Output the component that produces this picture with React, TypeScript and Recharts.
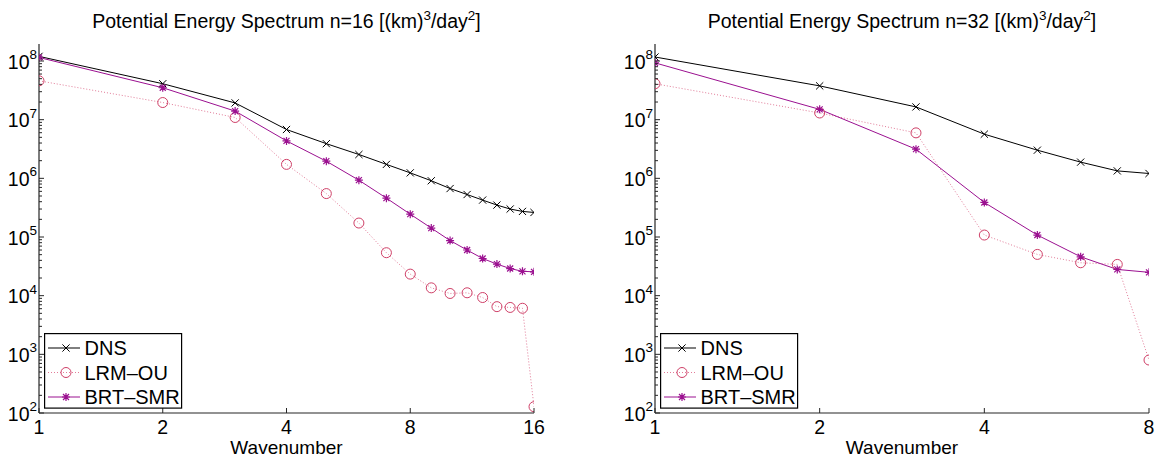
import React from "react";
import { LineChart, Line, XAxis, YAxis } from "recharts";

// wavenumbers and spectra, n = 16
const WAVENUMBER_16 = [1, 2, 3, 4, 5, 6, 7, 8, 9, 10, 11, 12, 13, 14, 15, 16];
const DNS_16 = [1.2e8, 4.1e7, 1.93e7, 6.8e6, 3.9e6, 2.55e6, 1.73e6, 1.24e6, 9.1e5, 6.7e5, 5.3e5, 4.26e5, 3.5e5, 3.0e5, 2.73e5, 2.62e5];
const LRM_16 = [4.6e7, 1.96e7, 1.09e7, 1.73e6, 5.5e5, 1.73e5, 5.4e4, 2.33e4, 1.36e4, 1.09e4, 1.12e4, 9.3e3, 6.5e3, 6.3e3, 6.1e3, 128];
const BRT_16 = [1.15e8, 3.5e7, 1.4e7, 4.35e6, 1.96e6, 9.3e5, 4.6e5, 2.45e5, 1.42e5, 8.7e4, 6.0e4, 4.3e4, 3.45e4, 2.9e4, 2.6e4, 2.55e4];

// wavenumbers and spectra, n = 32
const WAVENUMBER_32 = [1, 2, 3, 4, 5, 6, 7, 8];
const DNS_32 = [1.17e8, 3.77e7, 1.65e7, 5.66e6, 3.02e6, 1.89e6, 1.34e6, 1.21e6];
const LRM_32 = [4.1e7, 1.3e7, 5.96e6, 1.08e5, 5.05e4, 3.64e4, 3.41e4, 800];
const BRT_32 = [9.3e7, 1.5e7, 3.14e6, 3.88e5, 1.08e5, 4.6e4, 2.8e4, 2.5e4];

const X_TICKS_16 = [1, 2, 4, 8, 16];
const X_TICKS_32 = [1, 2, 4, 8];
const Y_MIN = 1e2;
const Y_MAX = 1.95e8;

const FONT = '"Liberation Sans", Arial, Helvetica, sans-serif';
const AXIS = "#262626";
const C_DNS = "#000000";
const C_LRM = "#cf3f67";
const C_LRM_LINE = "#e27b98";
const C_BRT = "#9b1090";

// log ticks: decades get a label, 2..9 get minor marks
const Y_TICKS: number[] = [];
for (let d = 2; d <= 8; d++) {
  for (let m = 1; m <= 9; m++) {
    const v = m * Math.pow(10, d);
    if (v <= Y_MAX) Y_TICKS.push(v);
  }
}

function buildRows(ks: number[], dns: number[], lrm: number[], brt: number[]) {
  return ks.map((k, i) => ({ k, dns: dns[i], lrm: lrm[i], brt: brt[i] }));
}

function CrossMark({ cx, cy, color }: any) {
  const s = 3.6;
  return (
    <path
      d={`M${cx - s},${cy - s}L${cx + s},${cy + s}M${cx - s},${cy + s}L${cx + s},${cy - s}`}
      stroke={color}
      strokeWidth={1}
      fill="none"
    />
  );
}

function StarMark({ cx, cy, color }: any) {
  const s = 4;
  const d = 3;
  return (
    <path
      d={`M${cx - s},${cy}L${cx + s},${cy}M${cx},${cy - s}L${cx},${cy + s}M${cx - d},${cy - d}L${cx + d},${cy + d}M${cx - d},${cy + d}L${cx + d},${cy - d}`}
      stroke={color}
      strokeWidth={1.2}
      fill="none"
    />
  );
}

function CircleMark({ cx, cy, color }: any) {
  return <circle cx={cx} cy={cy} r={5} stroke={color} strokeWidth={1} fill="none" />;
}

function YTick({ x, y, payload }: any) {
  const lg = Math.log10(payload.value);
  const e = Math.round(lg);
  if (Math.abs(lg - e) > 1e-6) {
    return <line x1={x} x2={x + 3} y1={y} y2={y} stroke={AXIS} />;
  }
  return (
    <g>
      <line x1={x} x2={x + 5} y1={y} y2={y} stroke={AXIS} />
      <text x={x - 2} y={y + 7.5} textAnchor="end" fontSize={19.5} fontFamily={FONT} fill="#000">
        10
        <tspan dy={-9.5} fontSize={13.5}>
          {e}
        </tspan>
      </text>
    </g>
  );
}

function XTick({ x, y, payload }: any) {
  return (
    <g>
      <line x1={x} x2={x} y1={y} y2={y - 5} stroke={AXIS} />
      <text x={x} y={y + 20.5} textAnchor="middle" fontSize={19.5} fontFamily={FONT} fill="#000">
        {payload.value}
      </text>
    </g>
  );
}

function LegendBox({ left, top }: { left: number; top: number }) {
  const rows = [
    { name: "DNS", color: C_DNS, line: C_DNS, dash: undefined, Mark: CrossMark },
    { name: "LRM\u2013OU", color: C_LRM, line: C_LRM_LINE, dash: "1 2", Mark: CircleMark },
    { name: "BRT\u2013SMR", color: C_BRT, line: C_BRT, dash: undefined, Mark: StarMark },
  ];
  return (
    <svg style={{ position: "absolute", left, top }} width={139} height={77}>
      <rect x={0.6} y={0.6} width={137} height={74.5} fill="#fff" stroke="#000" strokeWidth={1.2} />
      {rows.map((r, i) => {
        const cy = 15 + i * 24.5;
        return (
          <g key={r.name}>
            <line x1={4} x2={36} y1={cy} y2={cy} stroke={r.line} strokeDasharray={r.dash} />
            <r.Mark cx={22} cy={cy} color={r.color} />
            <text x={40.5} y={cy + 7} fontSize={20} fontFamily={FONT} fill="#000">
              {r.name}
            </text>
          </g>
        );
      })}
    </svg>
  );
}

function SpectrumPanel({ n, rows, xTicks, left, yAxisWidth, rightMargin }: any) {
  const W = 578;
  const H = 459;
  const plotLeft = yAxisWidth;
  const plotW = W - rightMargin - yAxisWidth;
  return (
    <div style={{ position: "absolute", left, top: 0, width: W, height: H }}>
      <div
        style={{
          position: "absolute",
          left: plotLeft - 40,
          width: plotW + 80,
          top: 10,
          textAlign: "center",
          fontSize: 19.5,
          lineHeight: "22px",
          fontFamily: FONT,
          whiteSpace: "nowrap",
        }}
      >
        Potential Energy Spectrum n={n} [(km)
        <span style={{ fontSize: 13.5, position: "relative", top: -8 }}>3</span>/day
        <span style={{ fontSize: 13.5, position: "relative", top: -8 }}>2</span>]
      </div>
      <LineChart width={W} height={H} data={rows} margin={{ top: 44, right: rightMargin, bottom: 0, left: 0 }}>
        <XAxis
          dataKey="k"
          type="number"
          scale="log"
          domain={[1, xTicks[xTicks.length - 1]]}
          ticks={xTicks}
          interval={0}
          allowDataOverflow
          height={46}
          tickSize={0}
          tickMargin={0}
          tick={<XTick />}
          axisLine={{ stroke: AXIS, strokeWidth: 1.2 }}
          label={{ value: "Wavenumber", position: "insideBottom", offset: 5, fontSize: 19, fontFamily: FONT, fill: "#000" }}
        />
        <YAxis
          type="number"
          scale="log"
          domain={[Y_MIN, Y_MAX]}
          ticks={Y_TICKS}
          interval={0}
          allowDataOverflow
          width={yAxisWidth}
          tickSize={0}
          tickMargin={0}
          tick={<YTick />}
          axisLine={{ stroke: AXIS, strokeWidth: 1.2 }}
        />
        <Line
          dataKey="dns"
          type="linear"
          stroke={C_DNS}
          strokeWidth={1}
          isAnimationActive={false}
          activeDot={false}
          dot={(p: any) => <CrossMark key={`d${p.index}`} cx={p.cx} cy={p.cy} color={C_DNS} />}
        />
        <Line
          dataKey="lrm"
          type="linear"
          stroke={C_LRM_LINE}
          strokeWidth={1}
          strokeDasharray="1 2"
          isAnimationActive={false}
          activeDot={false}
          dot={(p: any) => <CircleMark key={`l${p.index}`} cx={p.cx} cy={p.cy} color={C_LRM} />}
        />
        <Line
          dataKey="brt"
          type="linear"
          stroke={C_BRT}
          strokeWidth={1}
          isAnimationActive={false}
          activeDot={false}
          dot={(p: any) => <StarMark key={`b${p.index}`} cx={p.cx} cy={p.cy} color={C_BRT} />}
        />
      </LineChart>
      <LegendBox left={plotLeft + 5} top={333} />
    </div>
  );
}

export default function App() {
  const rows16 = buildRows(WAVENUMBER_16, DNS_16, LRM_16, BRT_16);
  const rows32 = buildRows(WAVENUMBER_32, DNS_32, LRM_32, BRT_32);
  return (
    <div style={{ position: "absolute", left: 0, top: 0, width: 1156, height: 459, background: "#fff", overflow: "hidden" }}>
      <SpectrumPanel n={16} rows={rows16} xTicks={X_TICKS_16} left={0} yAxisWidth={39} rightMargin={44} />
      <SpectrumPanel n={32} rows={rows32} xTicks={X_TICKS_32} left={578} yAxisWidth={77} rightMargin={7} />
    </div>
  );
}
